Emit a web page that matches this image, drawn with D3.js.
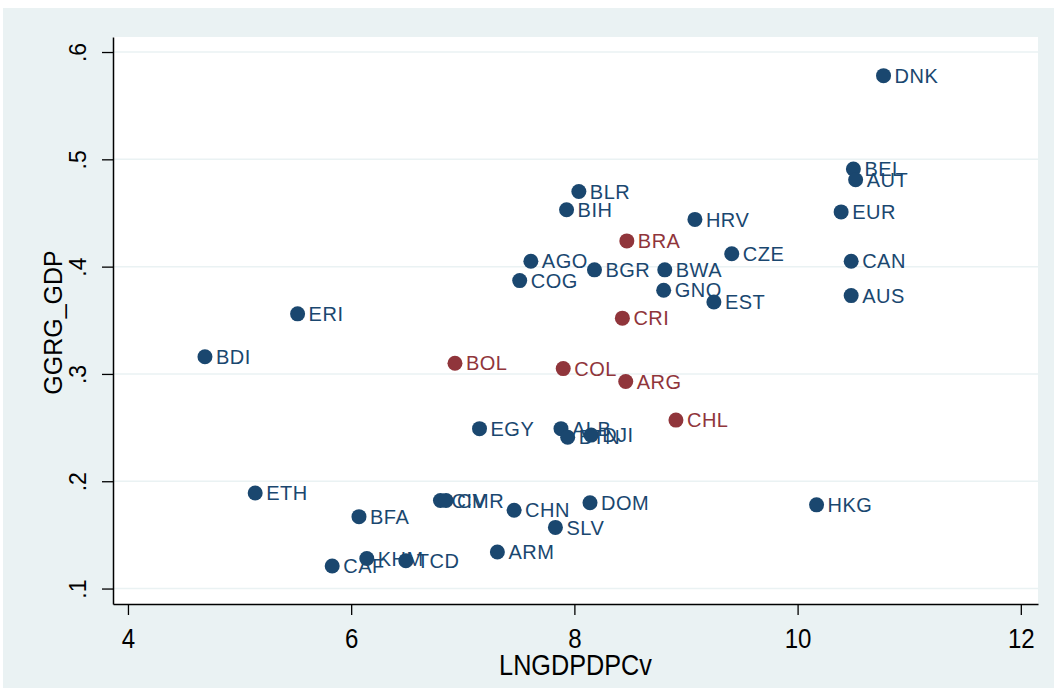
<!DOCTYPE html>
<html>
<head>
<meta charset="utf-8">
<script src="https://cdn.jsdelivr.net/npm/d3@7"></script>
<style>
  html, body { margin: 0; padding: 0; background: #ffffff; }
  svg { display: block; }
</style>
</head>
<body>
<svg id="chart" width="1054" height="688"></svg>
<script>
// Country codes, log GDP per capita and general government revenue share
const codes = ["DNK","BEL","AUT","EUR","CAN","AUS","BLR","BIH","HRV","BRA","CZE","AGO","COG","BGR","BWA","GNQ","EST","CRI","ERI","BDI","BOL","COL","ARG","CHL","EGY","ALB","BTN","DJI","CIV","CMR","ETH","BFA","CHN","DOM","HKG","SLV","ARM","KHM","TCD","CAF"];
const lngdp = [10.77,10.50,10.52,10.39,10.48,10.48,8.04,7.93,9.08,8.47,9.41,7.61,7.51,8.18,8.81,8.80,9.25,8.43,5.52,4.69,6.93,7.90,8.46,8.91,7.15,7.88,7.94,8.15,6.80,6.85,5.14,6.07,7.46,8.14,10.17,7.83,7.31,6.14,6.49,5.83];
const ggrg = [0.578,0.491,0.481,0.451,0.405,0.373,0.470,0.453,0.444,0.424,0.412,0.405,0.387,0.397,0.397,0.378,0.367,0.352,0.356,0.316,0.310,0.305,0.293,0.257,0.249,0.249,0.241,0.243,0.182,0.182,0.189,0.167,0.173,0.180,0.178,0.157,0.134,0.128,0.126,0.121];
const latam = ["BRA","CRI","BOL","COL","ARG","CHL"];

const xTicks = [4, 6, 8, 10, 12];
const yTicks = [0.1, 0.2, 0.3, 0.4, 0.5, 0.6];
const xTitle = "LNGDPDPCv";
const yTitle = "GGRG_GDP";

const navy = "#1a476f";
const maroon = "#90353b";
const outerBg = "#eaf2f3";

const svg = d3.select("#chart");

// Outer graph region
svg.append("rect").attr("x", 3).attr("y", 8).attr("width", 1051).attr("height", 680).attr("fill", outerBg);

const plot = { left: 113, right: 1038, top: 37, bottom: 604 };
svg.append("rect")
  .attr("x", plot.left).attr("y", plot.top)
  .attr("width", plot.right - plot.left).attr("height", plot.bottom - plot.top)
  .attr("fill", "#ffffff");

const x = d3.scaleLinear().domain([3.866, 12.154]).range([plot.left, plot.right]);
const y = d3.scaleLinear().domain([0.0856, 0.614]).range([plot.bottom, plot.top]);

// Horizontal grid
svg.append("g").selectAll("line").data(yTicks).join("line")
  .attr("x1", plot.left).attr("x2", plot.right)
  .attr("y1", d => y(d)).attr("y2", d => y(d))
  .attr("stroke", outerBg).attr("stroke-width", 1.5);

// Y axis
const yAxis = svg.append("g").attr("transform", `translate(${plot.left},0)`)
  .call(d3.axisLeft(y).tickValues(yTicks).tickSize(11).tickSizeOuter(0)
    .tickFormat(d => d3.format(".1f")(d).replace(/^0/, "")));
yAxis.select(".domain").attr("stroke", "#000").attr("stroke-width", 1.5);
yAxis.selectAll(".tick line").attr("stroke", "#000").attr("stroke-width", 1.3);
yAxis.selectAll(".tick text")
  .attr("font-family", "Liberation Sans, Arial, sans-serif")
  .attr("font-size", 23).attr("fill", "#000")
  .attr("x", 0).attr("dy", 0)
  .attr("text-anchor", "middle")
  .attr("transform", "translate(-27,0) rotate(-90)");

// X axis
const xAxis = svg.append("g").attr("transform", `translate(0,${plot.bottom})`)
  .call(d3.axisBottom(x).tickValues(xTicks).tickSize(11).tickSizeOuter(0).tickFormat(d3.format("d")));
xAxis.select(".domain").attr("stroke", "#000").attr("stroke-width", 1.5);
xAxis.selectAll(".tick line").attr("stroke", "#000").attr("stroke-width", 1.3);
xAxis.selectAll(".tick text")
  .attr("font-family", "Liberation Sans, Arial, sans-serif")
  .attr("font-size", 28).attr("fill", "#000")
  .attr("y", 0).attr("dy", 0)
  .attr("transform", "translate(0,44) scale(0.86,1)");

// Axis titles
svg.append("text")
  .attr("transform", `translate(${(plot.left + plot.right) / 2},675) scale(0.87,1)`)
  .attr("text-anchor", "middle")
  .attr("font-family", "Liberation Sans, Arial, sans-serif")
  .attr("font-size", 29).attr("fill", "#000")
  .text(xTitle);

svg.append("text")
  .attr("transform", `translate(62,${(plot.top + plot.bottom) / 2 + 2}) rotate(-90)`)
  .attr("text-anchor", "middle")
  .attr("font-family", "Liberation Sans, Arial, sans-serif")
  .attr("font-size", 25).attr("fill", "#000")
  .text(yTitle);

// Points and labels
const data = codes.map((c, i) => ({ code: c, lx: lngdp[i], gr: ggrg[i], col: latam.includes(c) ? maroon : navy }));

const pts = svg.append("g");
pts.selectAll("circle").data(data).join("circle")
  .attr("cx", d => x(d.lx)).attr("cy", d => y(d.gr))
  .attr("r", 7.5).attr("fill", d => d.col);

pts.selectAll("text").data(data).join("text")
  .attr("x", d => x(d.lx) + 11).attr("y", d => y(d.gr))
  .attr("dy", "0.36em")
  .attr("font-family", "Liberation Sans, Arial, sans-serif")
  .attr("font-size", 20).attr("letter-spacing", 0.5)
  .attr("fill", d => d.col)
  .text(d => d.code);
</script>
</body>
</html>
